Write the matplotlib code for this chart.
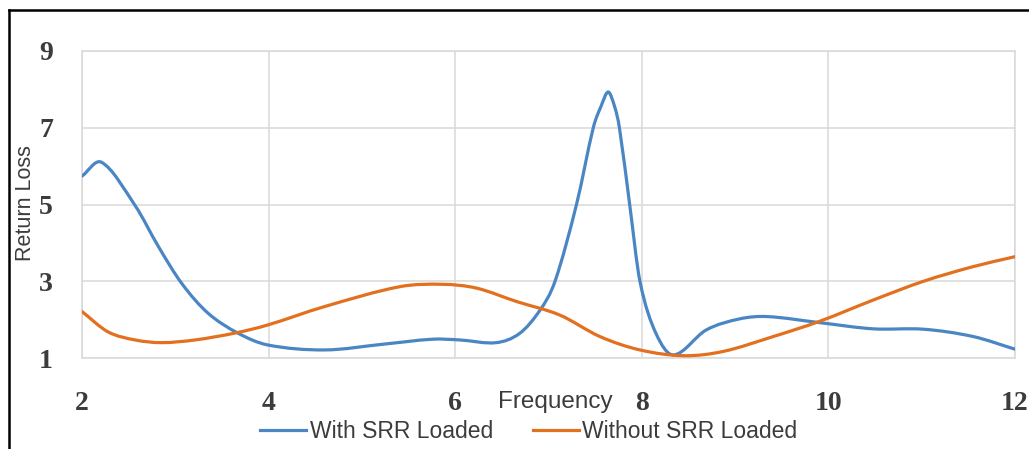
from matplotlib import pyplot as plt
from matplotlib.path import Path
from matplotlib.patches import PathPatch
from matplotlib.lines import Line2D
import numpy as np

# data
freq_srr = [2.0, 2.21, 2.57, 2.82, 3.07, 3.35, 3.67, 3.99, 4.6, 5.23, 5.76, 6.05,
            6.44, 6.69, 6.91, 7.07, 7.30, 7.48, 7.56, 7.64, 7.71, 7.76, 7.87, 7.98,
            8.15, 8.34, 8.69, 9.05, 9.34, 9.91, 10.48, 11.02, 11.55, 12.0]
rl_srr = [5.74, 6.10, 4.97, 3.90, 2.94, 2.17, 1.65, 1.34, 1.21, 1.36, 1.49, 1.47,
          1.40, 1.64, 2.25, 3.00, 5.00, 7.00, 7.54, 7.93, 7.54, 7.00, 5.00, 3.00,
          1.65, 1.08, 1.73, 2.02, 2.08, 1.92, 1.76, 1.75, 1.56, 1.23]

freq_nosrr = [2.0, 2.28, 2.57, 2.85, 3.21, 3.64, 3.99, 4.6, 5.41, 5.87, 6.23, 6.66,
              7.12, 7.55, 7.98, 8.45, 8.87, 9.41, 9.91, 10.48, 11.02, 11.55, 12.0]
rl_nosrr = [2.21, 1.68, 1.47, 1.40, 1.47, 1.65, 1.86, 2.34, 2.86, 2.92, 2.82, 2.47,
            2.12, 1.56, 1.21, 1.06, 1.17, 1.56, 1.96, 2.51, 3.00, 3.38, 3.64]

labels = ["With SRR Loaded", "Without SRR Loaded"]
colors = ["#4a86c4", "#e2701f"]
xticks = [2, 4, 6, 8, 10, 12]
yticks = [1, 3, 5, 7, 9]


def smooth_path(x, y):
    # smoothed line like excel: cubic hermite pieces written as bezier curves
    x = np.asarray(x, float)
    y = np.asarray(y, float)
    n = len(x)
    m = np.empty(n)
    m[1:-1] = (y[2:] - y[:-2]) / (x[2:] - x[:-2])
    m[0] = (y[1] - y[0]) / (x[1] - x[0])
    m[-1] = (y[-1] - y[-2]) / (x[-1] - x[-2])
    verts = [(x[0], y[0])]
    codes = [Path.MOVETO]
    for i in range(n - 1):
        h = (x[i + 1] - x[i]) / 3
        verts += [(x[i] + h, y[i] + m[i] * h),
                  (x[i + 1] - h, y[i + 1] - m[i + 1] * h),
                  (x[i + 1], y[i + 1])]
        codes += [Path.CURVE4] * 3
    return Path(verts, codes)


W, H = 1029, 449
fig = plt.figure(figsize=(W / 100, H / 100), dpi=100)
ax = fig.add_axes([82 / W, 1 - 358 / H, (1015 - 82) / W, (358 - 51) / H])

grid_c = "#d9d9d9"
text_c = "#3c3c3c"

for xs, ys, c in [(freq_srr, rl_srr, colors[0]), (freq_nosrr, rl_nosrr, colors[1])]:
    ax.add_patch(PathPatch(smooth_path(xs, ys), facecolor="none", edgecolor=c,
                           lw=2.3, capstyle="round", zorder=3))

ax.set_xlim(2, 12)
ax.set_ylim(1, 9)
ax.set_xticks(xticks)
ax.set_yticks(yticks)
ax.grid(True, color=grid_c, lw=1.1)
ax.set_axisbelow(True)
for s in ax.spines.values():
    s.set_color(grid_c)
    s.set_linewidth(1.1)

tick_font = dict(family="Liberation Serif", weight="bold", size=20)
ax.tick_params(length=0, colors=text_c)
ax.tick_params(axis="x", pad=24)
ax.tick_params(axis="y", pad=21)
for lab in ax.get_xticklabels() + ax.get_yticklabels():
    lab.set_fontproperties(tick_font)
    lab.set_color(text_c)

sans = ["Liberation Sans", "DejaVu Sans"]
fig.text(26 / W, 1 - 203 / H, "Return Loss", rotation=90, ha="center", va="center",
         family=sans, size=15.5, color=text_c)
fig.text(555 / W, 1 - 408 / H, "Frequency", ha="center", va="baseline",
         family=sans, size=17.5, color=text_c)

handles = [Line2D([], [], color=c, lw=2.3) for c in colors]
fig.legend(handles, labels, loc="center", bbox_to_anchor=(529 / W, 1 - 432 / H),
           ncol=2, frameon=False, prop=dict(family=sans, size=16.5),
           handlelength=2.0, handletextpad=0.15, columnspacing=1.75, labelcolor=text_c)

# black frame around the picture (only left and top visible)
fig.add_artist(Line2D([8.7 / W, 8.7 / W], [0, 1 - 9.5 / H], color="black", lw=1.8,
                      transform=fig.transFigure))
fig.add_artist(Line2D([8.7 / W, 1], [1 - 9.5 / H, 1 - 9.5 / H], color="black", lw=1.8,
                      transform=fig.transFigure))

plt.savefig("out.png", dpi=100)
